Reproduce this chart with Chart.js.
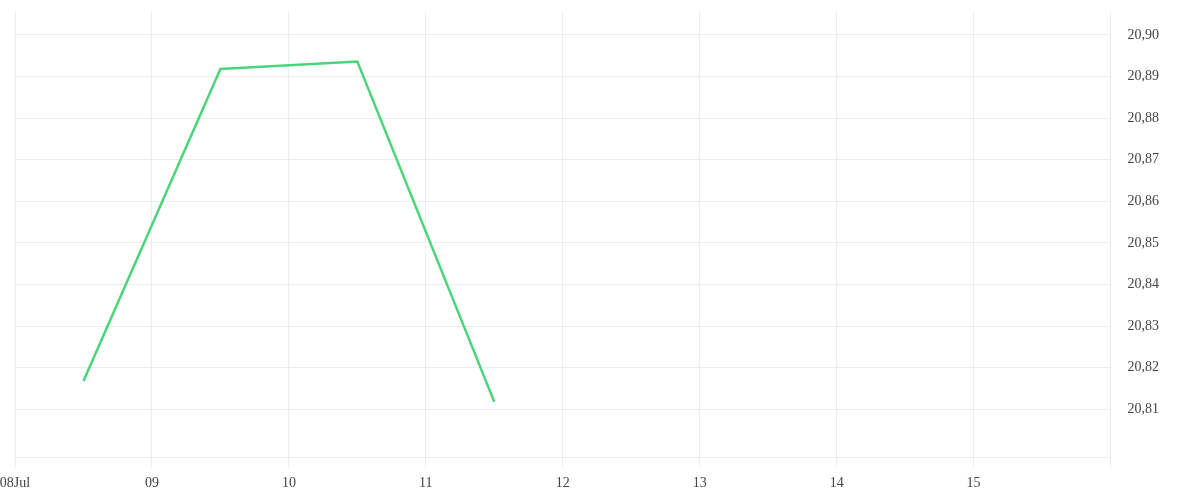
<!DOCTYPE html>
<html>
<head>
<meta charset="utf-8">
<script src="https://cdn.jsdelivr.net/npm/chart.js@4/dist/chart.umd.min.js"></script>
<style>
  html, body { margin: 0; padding: 0; background: #fff; }
  #wrap { width: 1200px; height: 500px; }
</style>
</head>
<body>
<div id="wrap"><canvas id="chart"></canvas></div>
<script>
// day of July (mid-day points) and the price at each
const DAYS = [8.5, 9.5, 10.5, 11.5];
const PRICES = [20.8168, 20.8918, 20.8936, 20.8118];
const X_TICKS = [8, 9, 10, 11, 12, 13, 14, 15, 16];
const X_LABELS = ["08Jul", "09", "10", "11", "12", "13", "14", "15", ""];
const Y_TICKS = [20.81, 20.82, 20.83, 20.84, 20.85, 20.86, 20.87, 20.88, 20.89, 20.90];

const GRID = "#ececec";
const FONT = { family: "'Liberation Serif', serif", size: 14 };

function initializeChart() {
  const ctx = document.getElementById("chart");
  new Chart(ctx, {
    type: "line",
    data: {
      datasets: [{
        data: DAYS.map((d, i) => ({ x: d, y: PRICES[i] })),
        borderColor: "#4cd47a",
        borderWidth: 2.5,
        pointRadius: 0,
        tension: 0,
        fill: false,
      }],
    },
    options: {
      responsive: true,
      maintainAspectRatio: false,
      animation: false,
      layout: { padding: { top: 12, right: 24, bottom: 0, left: 0 } },
      plugins: { legend: { display: false }, tooltip: { enabled: false } },
      scales: {
        x: {
          type: "linear",
          min: 8,
          max: 16,
          afterBuildTicks: (axis) => { axis.ticks = X_TICKS.map((v) => ({ value: v })); },
          afterFit: (axis) => { axis.paddingLeft = 15; axis.paddingRight = 0; },
          grid: { color: GRID, tickLength: 10, tickColor: GRID },
          border: { color: GRID },
          ticks: {
            color: "#444",
            font: FONT,
            padding: 8,
            maxRotation: 0,
            callback: (v) => X_LABELS[X_TICKS.indexOf(v)] ?? "",
          },
        },
        y: {
          position: "right",
          min: 20.7985,
          max: 20.9055,
          afterBuildTicks: (axis) => { axis.ticks = Y_TICKS.map((v) => ({ value: v })); },
          afterFit: (axis) => { axis.paddingTop = 0; axis.paddingBottom = 0; },
          grid: { color: GRID, drawTicks: false },
          border: { color: GRID },
          ticks: {
            color: "#444",
            font: FONT,
            padding: 17,
            callback: (v) => v.toFixed(2).replace(".", ","),
          },
        },
      },
    },
  });
}

initializeChart();
</script>
</body>
</html>
